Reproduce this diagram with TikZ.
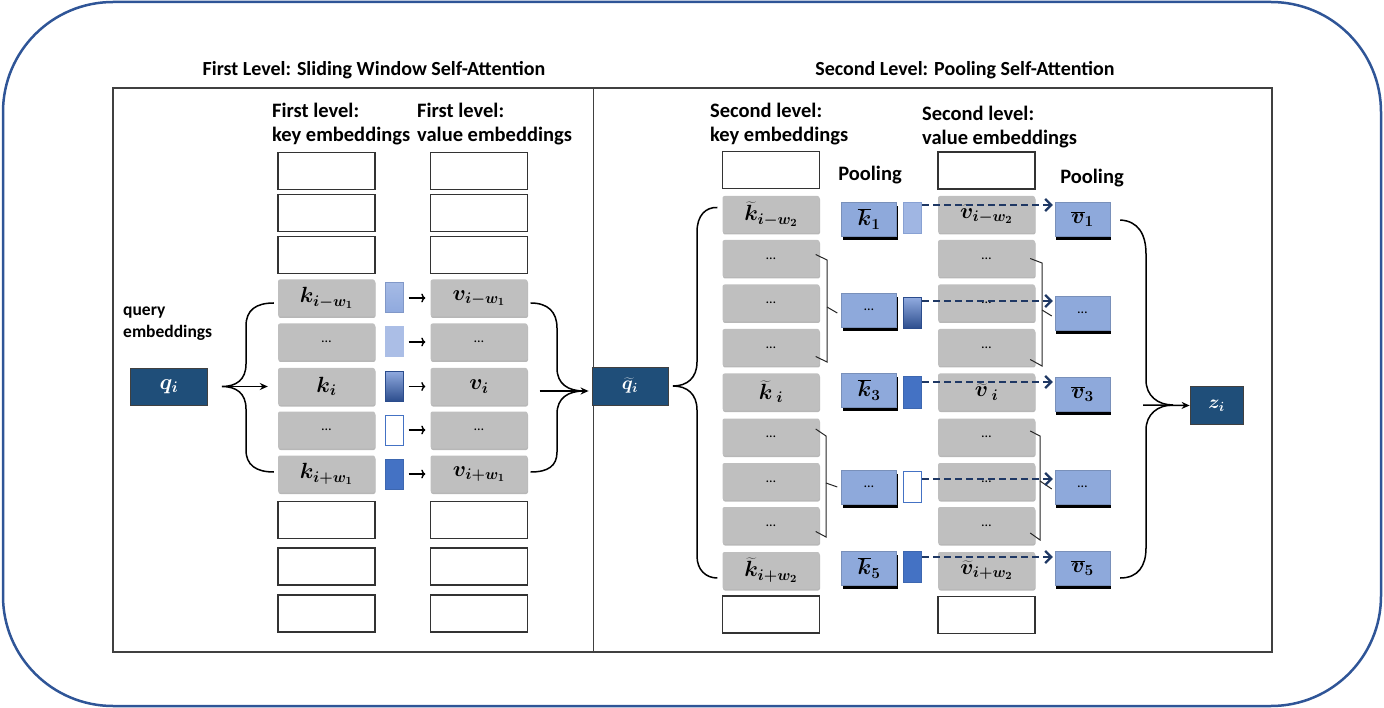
\RequirePackage{fix-cm}
\documentclass[tikz,border=0pt]{standalone}
\usepackage{fontspec}
\setmainfont{Carlito}
\usepackage{bm}
\usetikzlibrary{arrows.meta,shadows,calc}
\definecolor{navyc}{HTML}{1F4E79}
\definecolor{gboxc}{HTML}{BFBFBF}
\definecolor{poolc}{HTML}{8EA9DB}
\definecolor{dashc}{HTML}{1F3864}
\definecolor{outerc}{HTML}{2F5597}
\definecolor{midblue}{HTML}{4472C4}
\definecolor{darkgrad}{HTML}{2B4C8C}
\definecolor{lightgrad}{HTML}{8FA9DE}
\newcommand{\mydots}{{\fontsize{14}{14}\selectfont\dots}}
\begin{document}
\begin{tikzpicture}[x=1pt,y=-1pt,
  lbl/.style={font=\fontsize{20.5}{24}\selectfont\bfseries, align=left, inner sep=0},
  ttl/.style={font=\fontsize{20}{22}\selectfont\bfseries, inner sep=0},
  wbox/.style={draw=black!80, line width=1.2pt, fill=white, minimum width=97pt, minimum height=37pt, inner sep=0},
  gbox/.style={fill=gboxc, rounded corners=2pt, minimum width=97pt, minimum height=37pt, inner sep=0,
    drop shadow={shadow xshift=0.5pt,shadow yshift=-1.5pt,fill=black!70,opacity=0.4}, font=\fontsize{22}{22}\selectfont},
  pbox/.style={fill=poolc, draw=poolc!85!black, line width=0.4pt, minimum width=55pt, minimum height=34pt, inner sep=0,
    drop shadow={shadow xshift=1pt,shadow yshift=-4pt,fill=black,opacity=1}, font=\fontsize{22}{22}\selectfont},
  nbox/.style={fill=navyc, draw=black!75, line width=0.8pt, text=white, inner sep=0, font=\fontsize{22}{22}\selectfont},
  sq/.style={minimum width=18pt, minimum height=30pt, inner sep=0, line width=1pt},
  brace/.style={draw=black, line width=1.5pt},
  bracket/.style={draw=black!85, line width=1pt},
  arr/.style={-{Stealth[length=8pt,width=7pt]}, line width=1.5pt},
  sarr/.style={-{To[length=4pt,width=9pt]}, line width=1.4pt},
  darr/.style={-{Straight Barb[length=6pt,width=12pt]}, line width=2.3pt, draw=dashc, dash pattern=on 7pt off 4pt},
]
\useasboundingbox (0,0) rectangle (1384,708);
% outer frame
\draw[outerc, line width=2.5pt, rounded corners=110pt] (3,2) rectangle (1381,706);
% titles
\node[ttl] (t1) at (374,70) {First Level: Sliding Window Self-Attention};
\node[ttl] (t2) at (965,70) {Second Level: Pooling Self-Attention};
% panels
\draw[black!75, line width=1.2pt] (113,88) rectangle (1272,652);
\draw[black!75, line width=1pt] (593,88) -- (593,652);

% ---------- Left panel ----------
\node[lbl, anchor=west] (lk) at (272,124) {First level:\\key embeddings};
\node[lbl, anchor=west] (lv) at (417,124) {First level:\\value embeddings};
\node[lbl, anchor=west, font=\fontsize{17.5}{22}\selectfont\bfseries] (lq) at (123,324) {query\\embeddings};

\foreach \y [count=\n] in {171,213,255,520,566.5,613.5} {
  \node[wbox] (kw\n) at (326.5,\y) {};
  \node[wbox] (vw\n) at (479,\y) {};
}
\node[gbox] (k1) at (326.5,298) {$\bm{k_{i-w_1}}$};
\node[gbox] (k2) at (326.5,342) {\mydots};
\node[gbox] (k3) at (326.5,386.5) {$\bm{k_i}$};
\node[gbox] (k4) at (326.5,430) {\mydots};
\node[gbox] (k5) at (326.5,474) {$\bm{k_{i+w_1}}$};
\node[gbox] (v1) at (479,298) {$\bm{v_{i-w_1}}$};
\node[gbox] (v2) at (479,342) {\mydots};
\node[gbox] (v3) at (479,386.5) {$\bm{v_i}$};
\node[gbox] (v4) at (479,430) {\mydots};
\node[gbox] (v5) at (479,474) {$\bm{v_{i+w_1}}$};

\node[sq, top color=lightgrad!80, bottom color=lightgrad, draw=lightgrad!90!black] (s1) at (394,298) {};
\node[sq, fill=lightgrad!75, draw=lightgrad!75] (s2) at (394,342) {};
\node[sq, top color=lightgrad, bottom color=darkgrad, draw=darkgrad] (s3) at (394,386.5) {};
\node[sq, fill=white, draw=midblue] (s4) at (394,430) {};
\node[sq, fill=midblue, draw=midblue!90!black] (s5) at (394,474) {};
\foreach \n in {1,...,5} {
  \draw[sarr] ([xshift=5pt]s\n.east) -- ([xshift=-5pt]v\n.west);
}

\node[nbox, minimum width=77pt, minimum height=37pt] (q) at (169,386.5) {$\bm{q_i}$};
\coordinate (lb) at (222,386.5);
\draw[brace] ([xshift=-4pt,yshift=-5pt]k1.west) .. controls (256,303) and (246,310) .. (246,326) -- (246,364)
  .. controls (246,380) and (236,386.5) .. (lb)
  .. controls (236,386.5) and (246,393) .. (246,409) -- (246,450)
  .. controls (246,465) and (256,472) .. ([xshift=-4pt,yshift=2pt]k5.west);
\draw[arr] (lb) -- ([xshift=-10pt]k3.west);

\node[nbox, minimum width=76pt, minimum height=38pt, font=\fontsize{19}{19}\selectfont] (qt) at (630,386) {$\widetilde{\bm q}_{\bm i}$};
\coordinate (rb) at (584,391);
\draw[brace] ([xshift=3pt,yshift=-5pt]v1.east) .. controls (548,303) and (557,312) .. (557,328) -- (557,368)
  .. controls (557,384) and (568,391) .. (rb)
  .. controls (568,391) and (557,398) .. (557,414) -- (557,452)
  .. controls (557,466) and (548,472) .. ([xshift=3pt,yshift=2pt]v5.east);
\draw[arr] ([xshift=12pt,yshift=-4.5pt]v3.east) -- ([xshift=-3pt,yshift=-5pt]qt.west);

% ---------- Right panel ----------
\node[lbl, anchor=west] (rk) at (710,124) {Second level:\\key embeddings};
\node[lbl, anchor=west] (rv) at (922,127) {Second level:\\value embeddings};
\node[lbl] (p1) at (870,175) {Pooling};
\node[lbl] (p2) at (1092,178) {Pooling};

\node[wbox] (kkt) at (771,170) {};
\node[wbox] (kkb) at (771,614.5) {};
\node[wbox] (vvt) at (986.5,170.5) {};
\node[wbox] (vvb) at (986.5,615) {};

\foreach \y/\kt/\vt [count=\n] in {
  214.5/{$\widetilde{\bm k}_{\bm{i-w_2}}$}/{$\widetilde{\bm v}_{\bm{i-w_2}}$},
  258.5/\mydots/\mydots,
  303/\mydots/\mydots,
  347.5/\mydots/\mydots,
  392/{$\widetilde{\bm k}_{\;\bm i}$}/{$\widetilde{\bm v}_{\;\bm i}$},
  437/\mydots/\mydots,
  481.5/\mydots/\mydots,
  525.5/\mydots/\mydots,
  570.5/{$\widetilde{\bm k}_{\bm{i+w_2}}$}/{$\widetilde{\bm v}_{\bm{i+w_2}}$}} {
  \node[gbox] (kk\n) at (771,\y) {\kt};
  \node[gbox] (vv\n) at (986.5,\y) {\vt};
}

\node[pbox] (pk1) at (869,219) {$\overline{\bm k}_{\bm 1}$};
\node[pbox] (pk2) at (869,310) {\mydots};
\node[pbox] (pk3) at (869,390) {$\overline{\bm k}_{\bm 3}$};
\node[pbox] (pk4) at (869,487) {\mydots};
\node[pbox] (pk5) at (869,568) {$\overline{\bm k}_{\bm 5}$};

\node[pbox] (pv1) at (1082.5,219) {$\overline{\bm v}_{\bm 1}$};
\node[pbox] (pv2) at (1082.5,313) {\mydots};
\node[pbox] (pv3) at (1082.5,394) {$\overline{\bm v}_{\bm 3}$};
\node[pbox] (pv4) at (1082.5,487) {\mydots};
\node[pbox] (pv5) at (1082.5,568) {$\overline{\bm v}_{\bm 5}$};

\node[sq, minimum height=31pt, fill=lightgrad!85, draw=lightgrad!95!black] (ps1) at (912.5,218.5) {};
\node[sq, minimum height=31pt, top color=lightgrad, bottom color=darkgrad, draw=darkgrad] (ps2) at (912.5,313.5) {};
\node[sq, minimum height=31pt, fill=midblue, draw=midblue!90!black] (ps3) at (912.5,392.5) {};
\node[sq, minimum height=31pt, fill=white, draw=midblue] (ps4) at (912.5,487) {};
\node[sq, minimum height=31pt, fill=midblue, draw=midblue!90!black] (ps5) at (912.5,567) {};

% brackets
\draw[bracket] ($(kk2.east)+(-4,-4)$) -- (827,260) -- (827,362) -- ($(kk4.east)+(-4,9)$);
\draw[bracket] (827,307) -- ($(pk2.west)+(-4,3)$);
\draw[bracket] ($(kk6.east)+(-4,-8)$) -- (826,436) -- (826,537) -- ($(kk8.east)+(-4,6)$);
\draw[bracket] (826,483) -- ($(pk4.west)+(-4,0)$);
\draw[bracket] ($(vv2.east)+(-5,0)$) -- (1042,263) -- (1042,366) -- ($(vv4.east)+(-5,12)$);
\draw[bracket] (1042,310) -- ($(pv2.west)+(-3,3)$);
\draw[bracket] ($(vv6.east)+(-5,-6)$) -- (1040,436) -- (1040,540) -- ($(vv8.east)+(-5,7.5)$);
\draw[bracket] (1040,481) -- ($(pv4.west)+(-3,2)$);

% dashed arrows
\draw[darr] ($(ps1.east)+(0,-13.5)$) -- ($(pv1.west |- ps1.east)+(-2,-13.5)$);
\draw[darr] ($(ps2.east)+(0,-12.5)$) -- ($(pv2.west |- ps2.east)+(-2,-12.5)$);
\draw[darr] ($(ps3.east)+(0,-10.5)$) -- ($(pv3.west |- ps3.east)+(-2,-10.5)$);
\draw[darr] ($(ps4.east)+(0,-8)$) -- ($(pv4.west |- ps4.east)+(-2,-8)$);
\draw[darr] ($(ps5.east)+(0,-10)$) -- ($(pv5.west |- ps5.east)+(-2,-10)$);

% big brace from q tilde
\coordinate (qtip) at (673,386);
\draw[brace] ($(kk1.west)+(-5,-7)$) .. controls (706,207) and (697,215) .. (697,232) -- (697,362)
  .. controls (697,378) and (687,386) .. (qtip)
  .. controls (687,386) and (697,394) .. (697,410) -- (697,556)
  .. controls (697,570) and (706,578) .. ($(kk9.west)+(-5,7.5)$);

% right brace to z
\node[nbox, minimum width=53pt, minimum height=38pt, font=\fontsize{19}{19}\selectfont] (z) at (1216.5,405.5) {$\bm{z_i}$};
\coordinate (ztip) at (1173,405);
\draw[brace] ($(pv1.east)+(10,1)$) .. controls (1138,221) and (1146,234) .. (1146,254) -- (1146,380)
  .. controls (1146,396) and (1158,405) .. (ztip)
  .. controls (1158,405) and (1146,414) .. (1146,430) -- (1146,548)
  .. controls (1146,566) and (1138,578) .. ($(pv5.east)+(10,10)$);
\draw[arr] (1143,405) -- (z.west);
\end{tikzpicture}
\end{document}
